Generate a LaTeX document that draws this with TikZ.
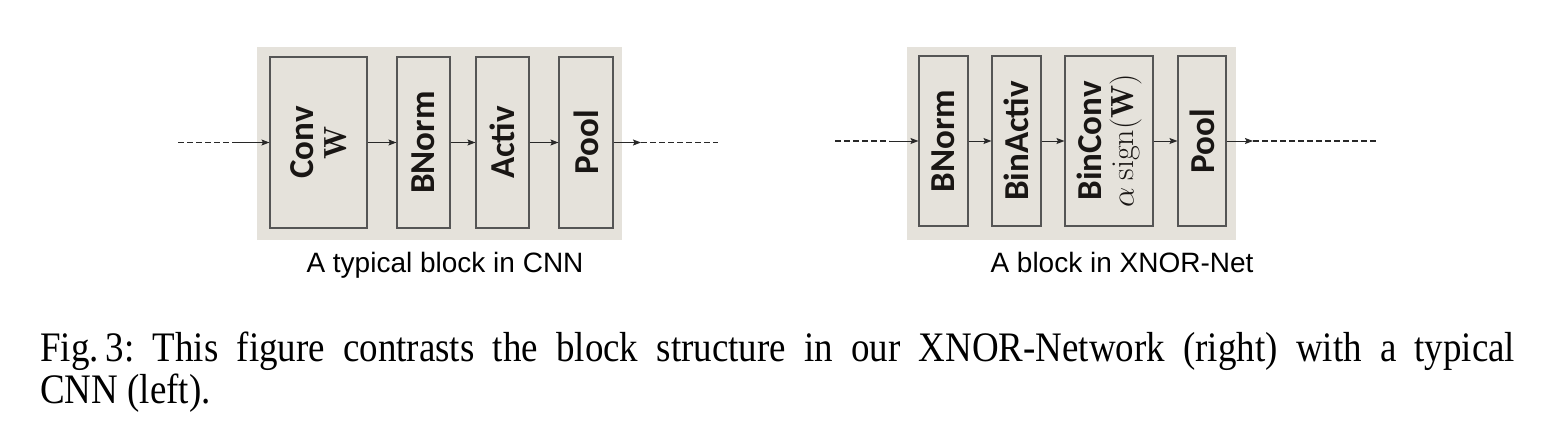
\documentclass[tikz,border=0pt]{standalone}
\usepackage{fix-cm}
\usepackage{amsmath}
\usepackage{fontspec}
\usetikzlibrary{arrows.meta}
\newfontfamily\boxfont{Carlito}
\newfontfamily\sansfont{Liberation Sans}
\newfontfamily\capfont[FakeStretch=0.88]{Liberation Serif}
\definecolor{panelbg}{RGB}{229,226,219}
\definecolor{boxline}{RGB}{85,85,85}
\definecolor{wire}{RGB}{40,40,40}
\definecolor{ink}{RGB}{25,22,20}
\tikzset{
  panel/.style={fill=panelbg, draw=none},
  blk/.style={draw=boxline, fill=panelbg, line width=1.1pt, inner sep=0pt},
  lbl/.style={rotate=90, align=center, text=ink, inner sep=0pt,
    font=\boxfont\bfseries\fontsize{35}{32.5}\selectfont},
  arr/.style={draw=wire, line width=1pt, -{Stealth[length=8pt,width=6pt,inset=1.5pt]}},
  dsh/.style={draw=wire, line width=1.1pt, dash pattern=on 5.5pt off 3.5pt},
  sub/.style={font=\sansfont\fontsize{28}{30}\selectfont, anchor=base, inner sep=0pt},
  captxt/.style={font=\capfont\frenchspacing\fontsize{42}{42}\selectfont, anchor=base west, inner sep=0pt}
}
\newcommand{\mth}[1]{{\mdseries\fontsize{32}{32.5}\selectfont$#1$}}
\begin{document}
\begin{tikzpicture}[x=1pt,y=-1pt]
\useasboundingbox (0,0) rectangle (1564,442);
% ---------- left panel ----------
\path[panel] (257,47) rectangle (622,240);
\node[blk, minimum width=97pt, minimum height=171pt] (conv) at (318.5,142.5) {};
\node[blk, minimum width=53pt, minimum height=171pt] (bn1) at (423.5,142.5) {};
\node[blk, minimum width=53pt, minimum height=171pt] (act) at (502.5,142.5) {};
\node[blk, minimum width=54pt, minimum height=171pt] (pool1) at (586,142.5) {};
\node[lbl] (convt) at (conv) {Conv\\\mth{\mathbf{W}}};
\node[lbl] (bn1t) at (bn1) {BNorm};
\node[lbl] (actt) at (act) {Activ};
\node[lbl] (pool1t) at (pool1) {Pool};
\coordinate (in1a) at (178,142.5);
\coordinate (in1b) at (238,142.5);
\coordinate (out1a) at (641,142.5);
\coordinate (out1b) at (718,142.5);
\draw[dsh] (in1a) -- (in1b);
\draw[arr] (in1b) -- (conv.west);
\draw[arr] (conv.east) -- (bn1.west);
\draw[arr] (bn1.east) -- (act.west);
\draw[arr] (act.east) -- (pool1.west);
\draw[arr] (pool1.east) -- (out1a);
\draw[dsh] (out1a) -- (out1b);
\node[sub] (cap1) at (445,272) {A typical block in CNN};
% ---------- right panel ----------
\path[panel] (907,47) rectangle (1236,240);
\node[blk, minimum width=49pt, minimum height=170pt] (bn2) at (943.5,141) {};
\node[blk, minimum width=49pt, minimum height=170pt] (bact) at (1016.5,141) {};
\node[blk, minimum width=88pt, minimum height=170pt] (bconv) at (1109,141) {};
\node[blk, minimum width=48pt, minimum height=170pt] (pool2) at (1202,141) {};
\node[lbl] (bn2t) at (bn2) {BNorm};
\node[lbl] (bactt) at (bact) {BinActiv};
\node[lbl] (bconvt) at (bconv) {BinConv\\\mth{\alpha\ \mathrm{sign}(\mathbf{W})}};
\node[lbl] (pool2t) at (pool2) {Pool};
\coordinate (in2a) at (835,141);
\coordinate (in2b) at (889,141);
\coordinate (out2a) at (1253,141);
\coordinate (out2b) at (1378,141);
\draw[dsh] (in2a) -- (in2b);
\draw[arr] (in2b) -- (bn2.west);
\draw[arr] (bn2.east) -- (bact.west);
\draw[arr] (bact.east) -- (bconv.west);
\draw[arr] (bconv.east) -- (pool2.west);
\draw[arr] (pool2.east) -- (out2a);
\draw[dsh] (out2a) -- (out2b);
\node[sub] (cap2) at (1122,272) {A block in XNOR-Net};
% ---------- figure caption ----------
\node[captxt] (figcap1) at (40,361) {\makebox[1475pt][s]{Fig.\,3: This figure contrasts the block structure in our XNOR-Network (right) with a typical}};
\node[captxt] (figcap2) at (40,403) {CNN (left).};
\end{tikzpicture}
\end{document}
